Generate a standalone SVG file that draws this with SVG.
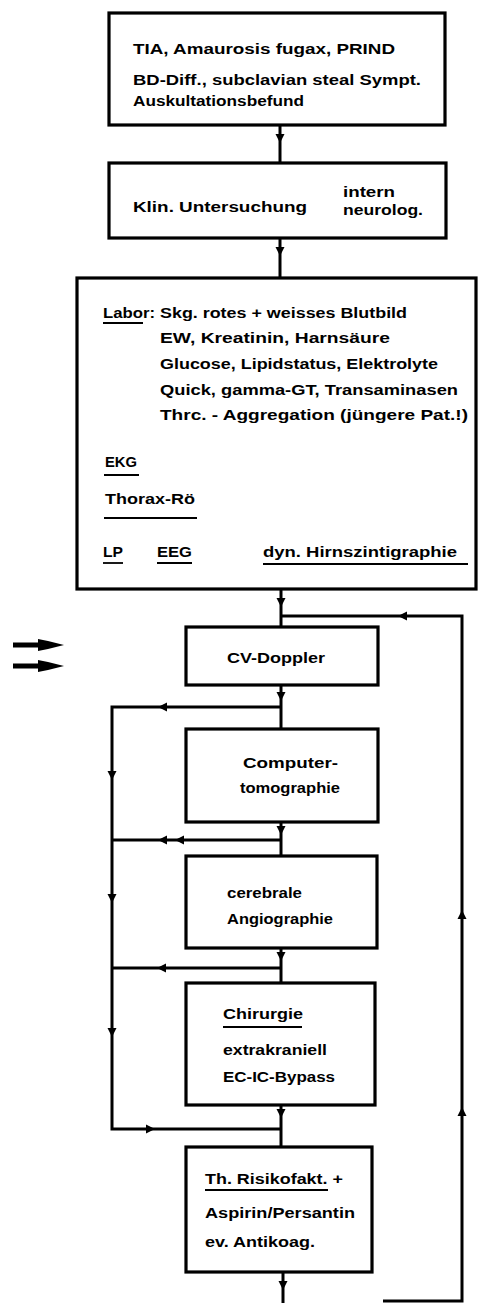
<svg xmlns="http://www.w3.org/2000/svg" xmlns:xlink="http://www.w3.org/1999/xlink" width="478" height="1303" viewBox="0 0 478 1303">
<style>
.box{fill:#fff;stroke:#000;stroke-width:3.2}
.ln{fill:none;stroke:#000;stroke-width:3}
.ul{fill:none;stroke:#000;stroke-width:1.8}
text{font-family:"Liberation Sans",Arial,sans-serif;font-weight:bold;font-size:14.5px;fill:#000}
.ah{fill:#000}
</style>
<defs>
<path id="ah" d="M-4,-4.5 L5,0 L-4,4.5 z"/>
</defs>
<rect width="478" height="1303" fill="#fff"/>
<g id="n1">
<rect class="box" x="109" y="13" width="336" height="112"/>
<text x="133" y="54" textLength="262" lengthAdjust="spacingAndGlyphs">TIA, Amaurosis fugax, PRIND</text>
<text x="133" y="85" textLength="288" lengthAdjust="spacingAndGlyphs">BD-Diff., subclavian steal Sympt.</text>
<text x="133" y="106" textLength="171" lengthAdjust="spacingAndGlyphs">Auskultationsbefund</text>
</g>
<g id="n2">
<rect class="box" x="109" y="163" width="337" height="75"/>
<text x="133" y="212" textLength="174" lengthAdjust="spacingAndGlyphs">Klin. Untersuchung</text>
<text x="343" y="197" textLength="52" lengthAdjust="spacingAndGlyphs">intern</text>
<text x="343" y="215" textLength="80" lengthAdjust="spacingAndGlyphs">neurolog.</text>
</g>
<g id="n3">
<rect class="box" x="77" y="278" width="399" height="311"/>
<text x="103" y="318" textLength="52" lengthAdjust="spacingAndGlyphs">Labor:</text>
<line class="ul" x1="103" y1="323" x2="143" y2="323"/>
<text x="160" y="318" textLength="247" lengthAdjust="spacingAndGlyphs">Skg. rotes + weisses Blutbild</text>
<text x="160" y="343" textLength="230" lengthAdjust="spacingAndGlyphs">EW, Kreatinin, Harnsäure</text>
<text x="160" y="369" textLength="278" lengthAdjust="spacingAndGlyphs">Glucose, Lipidstatus, Elektrolyte</text>
<text x="160" y="395" textLength="298" lengthAdjust="spacingAndGlyphs">Quick, gamma-GT, Transaminasen</text>
<text x="160" y="420" textLength="308" lengthAdjust="spacingAndGlyphs">Thrc. - Aggregation (jüngere Pat.!)</text>
<text x="105" y="467" textLength="32" lengthAdjust="spacingAndGlyphs">EKG</text>
<line class="ul" x1="104" y1="475" x2="139" y2="475"/>
<text x="105" y="504" textLength="90" lengthAdjust="spacingAndGlyphs">Thorax-Rö</text>
<line class="ul" x1="104" y1="518" x2="197" y2="518"/>
<text x="103" y="557" textLength="20" lengthAdjust="spacingAndGlyphs">LP</text>
<line class="ul" x1="103" y1="563" x2="123" y2="563"/>
<text x="157" y="557" textLength="35" lengthAdjust="spacingAndGlyphs">EEG</text>
<line class="ul" x1="157" y1="563" x2="192" y2="563"/>
<text x="263" y="557" textLength="194" lengthAdjust="spacingAndGlyphs">dyn. Hirnszintigraphie</text>
<line class="ul" x1="263" y1="564" x2="468" y2="564"/>
</g>
<g id="arrows-left">
<line x1="13" y1="645" x2="52" y2="645" stroke="#000" stroke-width="5"/>
<path class="ah" d="M38,639 L48,641 L64,645 L48,649 L38,651 z"/>
<line x1="13" y1="666" x2="52" y2="666" stroke="#000" stroke-width="5"/>
<path class="ah" d="M38,660 L48,662 L64,666 L48,670 L38,672 z"/>
</g>
<g id="n4">
<rect class="box" x="186" y="627" width="192" height="58"/>
<text x="227" y="663" textLength="98" lengthAdjust="spacingAndGlyphs">CV-Doppler</text>
</g>
<g id="n5">
<rect class="box" x="186" y="729" width="192" height="93"/>
<text x="243" y="768" textLength="95" lengthAdjust="spacingAndGlyphs">Computer-</text>
<text x="240" y="793" textLength="100" lengthAdjust="spacingAndGlyphs">tomographie</text>
</g>
<g id="n6">
<rect class="box" x="186" y="856" width="191" height="92"/>
<text x="227" y="898" textLength="75" lengthAdjust="spacingAndGlyphs">cerebrale</text>
<text x="227" y="924" textLength="106" lengthAdjust="spacingAndGlyphs">Angiographie</text>
</g>
<g id="n7">
<rect class="box" x="186" y="983" width="189" height="122"/>
<text x="223" y="1019" textLength="80" lengthAdjust="spacingAndGlyphs">Chirurgie</text>
<line class="ul" x1="223" y1="1027" x2="302" y2="1027"/>
<text x="223" y="1055" textLength="104" lengthAdjust="spacingAndGlyphs">extrakraniell</text>
<text x="223" y="1082" textLength="112" lengthAdjust="spacingAndGlyphs">EC-IC-Bypass</text>
</g>
<g id="n8">
<rect class="box" x="186" y="1147" width="186" height="125"/>
<text x="205" y="1184" textLength="138" lengthAdjust="spacingAndGlyphs">Th.  Risikofakt. +</text>
<line class="ul" x1="205" y1="1190" x2="328" y2="1190"/>
<text x="205" y="1218" textLength="150" lengthAdjust="spacingAndGlyphs">Aspirin/Persantin</text>
<text x="205" y="1247" textLength="110" lengthAdjust="spacingAndGlyphs">ev.  Antikoag.</text>
</g>
<g id="connectors">
<line class="ln" x1="280" y1="125" x2="280" y2="163"/>
<use href="#ah" xlink:href="#ah" transform="translate(280,138) rotate(90)"/>
<line class="ln" x1="280" y1="238" x2="280" y2="278"/>
<use href="#ah" xlink:href="#ah" transform="translate(280,251) rotate(90)"/>
<line class="ln" x1="281" y1="589" x2="281" y2="627"/>
<use href="#ah" xlink:href="#ah" transform="translate(281,602) rotate(90)"/>
<polyline class="ln" points="383,1301 462,1301 462,616 281,616"/>
<use href="#ah" xlink:href="#ah" transform="translate(403,616) rotate(180)"/>
<use href="#ah" xlink:href="#ah" transform="translate(462,915) rotate(-90)"/>
<use href="#ah" xlink:href="#ah" transform="translate(462,1112) rotate(-90)"/>
<line class="ln" x1="281" y1="685" x2="281" y2="729"/>
<use href="#ah" xlink:href="#ah" transform="translate(281,696) rotate(90)"/>
<polyline class="ln" points="281,707 112,707 112,1129 281,1129"/>
<use href="#ah" xlink:href="#ah" transform="translate(163,707) rotate(180)"/>
<use href="#ah" xlink:href="#ah" transform="translate(112,775) rotate(90)"/>
<use href="#ah" xlink:href="#ah" transform="translate(112,898) rotate(90)"/>
<use href="#ah" xlink:href="#ah" transform="translate(112,1032) rotate(90)"/>
<use href="#ah" xlink:href="#ah" transform="translate(150,1129)"/>
<line class="ln" x1="281" y1="822" x2="281" y2="856"/>
<use href="#ah" xlink:href="#ah" transform="translate(281,830) rotate(90)"/>
<line class="ln" x1="281" y1="840" x2="112" y2="840"/>
<use href="#ah" xlink:href="#ah" transform="translate(163,840) rotate(180)"/>
<use href="#ah" xlink:href="#ah" transform="translate(180,840) rotate(180)"/>
<line class="ln" x1="281" y1="948" x2="281" y2="983"/>
<use href="#ah" xlink:href="#ah" transform="translate(281,956) rotate(90)"/>
<line class="ln" x1="281" y1="968" x2="112" y2="968"/>
<use href="#ah" xlink:href="#ah" transform="translate(162,968) rotate(180)"/>
<line class="ln" x1="281" y1="1105" x2="281" y2="1147"/>
<use href="#ah" xlink:href="#ah" transform="translate(281,1113) rotate(90)"/>
<line class="ln" x1="283" y1="1272" x2="283" y2="1303"/>
<use href="#ah" xlink:href="#ah" transform="translate(283,1285) rotate(90)"/>
</g>
</svg>
